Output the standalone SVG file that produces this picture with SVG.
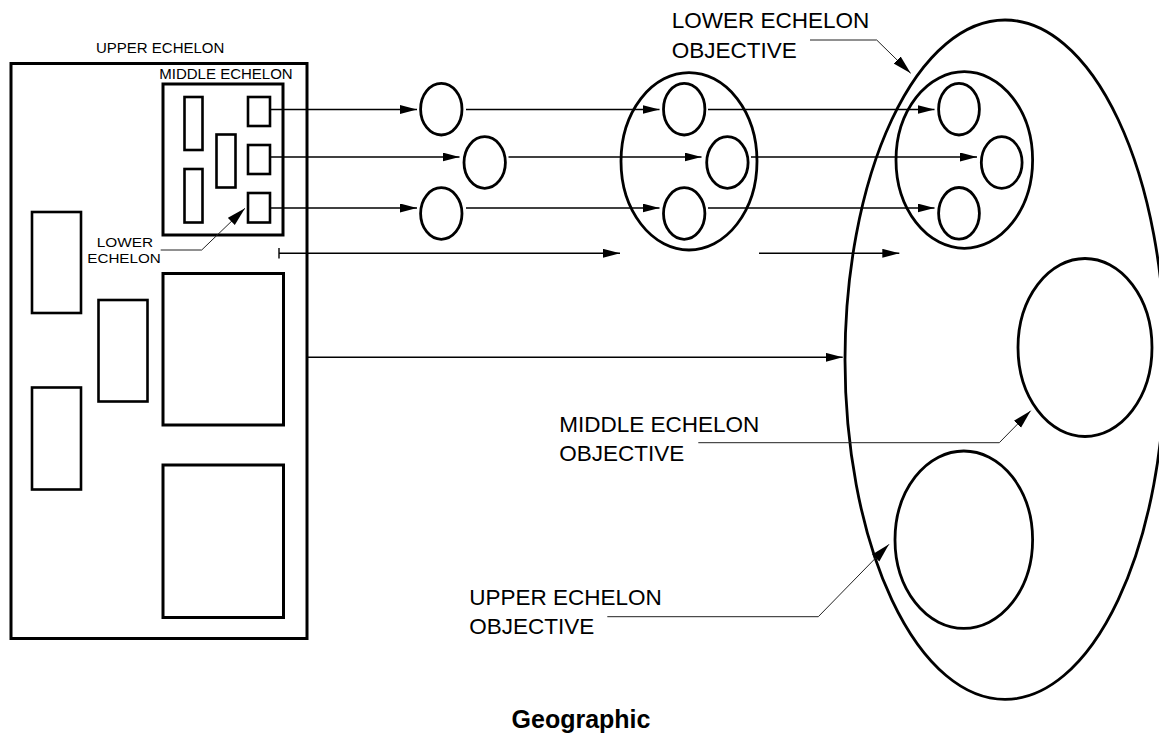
<svg xmlns="http://www.w3.org/2000/svg" width="1159" height="748" viewBox="0 0 1159 748">
  <style>
    .box { fill: none; stroke: #000; stroke-width: 3; }
    .sm { fill: none; stroke: #000; stroke-width: 2.6; }
    .ell { fill: none; stroke: #000; stroke-width: 2.8; }
    .conn { fill: none; stroke: #000; stroke-width: 1.4; }
    .lead { fill: none; stroke: #222; stroke-width: 1; }
    .lbl { font-family: "Liberation Sans", Arial, sans-serif; fill: #000; }
    .big { font-size: 22.5px; }
    .small { font-size: 15px; }
    .title { font-family: "Liberation Sans", Arial, sans-serif; font-size: 25px; font-weight: bold; fill: #000; }
  </style>
  <defs>
    <marker id="arrow" markerUnits="userSpaceOnUse" markerWidth="18" markerHeight="10" refX="17" refY="4.5" orient="auto">
      <path d="M0,0 L17,4.5 L0,9 z" fill="#000"/>
    </marker>
    <marker id="arrowL" markerUnits="userSpaceOnUse" markerWidth="20" markerHeight="12" refX="19" refY="5" orient="auto">
      <path d="M0,0 L19,5 L0,10 z" fill="#000"/>
    </marker>
  </defs>

  <rect width="1159" height="748" fill="#fff"/>

  <!-- upper echelon formation -->
  <g id="upper-echelon">
    <rect class="box" x="11" y="63.5" width="296" height="575"/>
    <text class="lbl small" x="96" y="53.3">UPPER ECHELON</text>
    <rect class="sm" x="32" y="212" width="49" height="101"/>
    <rect class="sm" x="98.5" y="300" width="49" height="101.5"/>
    <rect class="sm" x="32" y="387.5" width="49" height="102"/>
    <rect class="box" x="163" y="273.5" width="120.5" height="151.5"/>
    <rect class="box" x="163" y="465" width="120.5" height="152.5"/>
  </g>

  <!-- middle echelon formation -->
  <g id="middle-echelon">
    <rect class="box" x="163" y="84" width="120" height="151"/>
    <text class="lbl small" x="159.3" y="79.3">MIDDLE ECHELON</text>
    <rect class="sm" x="184.5" y="97" width="18" height="53"/>
    <rect class="sm" x="184.5" y="169" width="18" height="53.5"/>
    <rect class="sm" x="216.5" y="134.5" width="19" height="53"/>
  </g>

  <!-- lower echelon units -->
  <g id="lower-echelon">
    <rect class="sm" x="248" y="97" width="22" height="29"/>
    <rect class="sm" x="248" y="145" width="22" height="29"/>
    <rect class="sm" x="248" y="193" width="22" height="29.5"/>
    <text class="lbl" font-size="13.5" x="96.7" y="247.3" textLength="56.3" lengthAdjust="spacingAndGlyphs">LOWER</text>
    <text class="lbl" font-size="13.5" x="87.3" y="262.5" textLength="73.4" lengthAdjust="spacingAndGlyphs">ECHELON</text>
  </g>

  <!-- units in transit -->
  <g id="transit-units">
    <ellipse class="ell" cx="441.3" cy="109.2" rx="20.7" ry="25.8"/>
    <ellipse class="ell" cx="484.7" cy="162.5" rx="20.7" ry="25.8"/>
    <ellipse class="ell" cx="441.3" cy="213.5" rx="20.7" ry="25.8"/>
  </g>

  <!-- middle group -->
  <g id="middle-group">
    <ellipse class="ell" cx="689" cy="161.3" rx="68" ry="88.7"/>
    <ellipse class="ell" cx="684.2" cy="109.2" rx="20.7" ry="25.8"/>
    <ellipse class="ell" cx="727.4" cy="162.5" rx="20.7" ry="25.8"/>
    <ellipse class="ell" cx="684.2" cy="213.5" rx="20.7" ry="25.8"/>
  </g>

  <!-- objective area -->
  <g id="objective-area">
    <ellipse class="ell" cx="1005" cy="359.7" rx="160" ry="339.7"/>
  </g>

  <g id="lower-objective">
    <ellipse class="ell" cx="964.3" cy="160" rx="68.3" ry="88.3"/>
    <ellipse class="ell" cx="959" cy="109.2" rx="20.4" ry="25.8"/>
    <ellipse class="ell" cx="1001.7" cy="162.5" rx="20.4" ry="25.8"/>
    <ellipse class="ell" cx="959" cy="213.3" rx="20.4" ry="25.8"/>
    <text class="lbl big" x="671.7" y="28.3">LOWER ECHELON</text>
    <text class="lbl big" x="671.7" y="58.3">OBJECTIVE</text>
  </g>

  <g id="middle-objective">
    <ellipse class="ell" cx="1085" cy="347.5" rx="67" ry="89"/>
    <text class="lbl big" x="559.3" y="431.7">MIDDLE ECHELON</text>
    <text class="lbl big" x="559.3" y="461">OBJECTIVE</text>
  </g>

  <g id="upper-objective">
    <ellipse class="ell" cx="963.8" cy="539.7" rx="68.8" ry="88.7"/>
    <text class="lbl big" x="469.3" y="605">UPPER ECHELON</text>
    <text class="lbl big" x="469.3" y="634">OBJECTIVE</text>
  </g>

  <!-- movement arrows -->
  <g id="connectors">
    <line class="conn" x1="270" y1="109.5" x2="417" y2="109.5" marker-end="url(#arrow)"/>
    <line class="conn" x1="270" y1="157" x2="459.5" y2="157" marker-end="url(#arrow)"/>
    <line class="conn" x1="270" y1="208" x2="417" y2="208" marker-end="url(#arrow)"/>
    <line class="conn" x1="466" y1="109.5" x2="659.5" y2="109.5" marker-end="url(#arrow)"/>
    <line class="conn" x1="508.5" y1="157" x2="701.5" y2="157" marker-end="url(#arrow)"/>
    <line class="conn" x1="466" y1="208" x2="659.5" y2="208" marker-end="url(#arrow)"/>
    <line class="conn" x1="708" y1="109.5" x2="934.5" y2="109.5" marker-end="url(#arrow)"/>
    <line class="conn" x1="751" y1="157" x2="977" y2="157" marker-end="url(#arrow)"/>
    <line class="conn" x1="708" y1="208" x2="934.5" y2="208" marker-end="url(#arrow)"/>
    <line class="conn" x1="279" y1="248" x2="279" y2="258.5"/>
    <line class="conn" x1="279" y1="253.3" x2="620" y2="253.3" marker-end="url(#arrow)"/>
    <line class="conn" x1="759" y1="253.3" x2="899.3" y2="253.3" marker-end="url(#arrow)"/>
    <line class="conn" x1="307" y1="357.3" x2="842.7" y2="357.3" marker-end="url(#arrow)"/>

    <!-- label leaders -->
    <polyline class="lead" points="160.7,250 201.7,250 245,208.3" marker-end="url(#arrowL)"/>
    <polyline class="lead" points="810,40 876.7,40 910.7,73.3" marker-end="url(#arrowL)"/>
    <polyline class="lead" points="698.3,442.7 999.3,442.7 1030.7,410.7" marker-end="url(#arrowL)"/>
    <polyline class="lead" points="607.3,616.7 818.3,616.7 889,544.3" marker-end="url(#arrowL)"/>
  </g>

  <text class="title" x="581" y="728" text-anchor="middle">Geographic</text>
</svg>
